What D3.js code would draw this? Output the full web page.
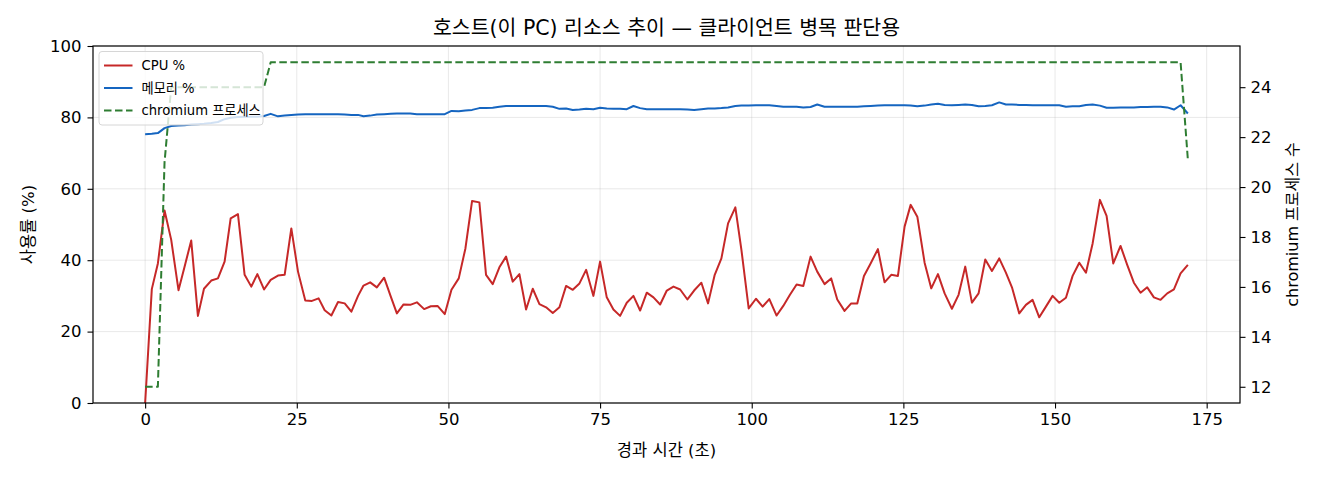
<!DOCTYPE html>
<html>
<head>
<meta charset="utf-8">
<script src="https://cdn.jsdelivr.net/npm/d3@7"></script>
<style>
  body { margin: 0; background: #fff; }
</style>
</head>
<body>
<script>
// elapsed seconds of each sample
const times = [
  0, 1.1, 2.1, 3.2, 4.3, 5.5, 6.5, 7.6, 8.7, 9.7,
  10.9, 12.0, 13.1, 14.1, 15.3, 16.4, 17.5, 18.5, 19.6, 20.7,
  21.9, 23.0, 24.1, 25.2, 26.4, 27.5, 28.6, 29.6, 30.7, 31.8,
  32.9, 34.0, 35.1, 36.0, 37.1, 38.2, 39.4, 40.5, 41.5, 42.6,
  43.7, 44.8, 46.0, 47.1, 48.2, 49.4, 50.5, 51.7, 52.8, 53.9,
  55.1, 56.2, 57.3, 58.4, 59.5, 60.6, 61.7, 62.8, 63.9, 65.0,
  66.1, 67.2, 68.3, 69.4, 70.5, 71.6, 72.7, 73.9, 75.0, 76.1,
  77.2, 78.3, 79.4, 80.5, 81.6, 82.7, 83.8, 84.9, 86.0, 87.1,
  88.2, 89.4, 90.5, 91.7, 92.8, 93.9, 95.0, 96.1, 97.3, 98.3,
  99.5, 100.7, 101.8, 102.9, 104.1, 105.2, 106.3, 107.4, 108.5, 109.7,
  110.8, 112.0, 113.1, 114.1, 115.3, 116.4, 117.4, 118.5, 119.6, 120.8,
  121.9, 123.0, 124.1, 125.2, 126.2, 127.3, 128.5, 129.6, 130.7, 131.8,
  133.0, 134.1, 135.2, 136.3, 137.4, 138.5, 139.6, 140.8, 141.9, 142.9,
  144.1, 145.2, 146.3, 147.4, 148.5, 149.6, 150.7, 151.8, 152.9, 154.0,
  155.1, 156.2, 157.4, 158.5, 159.6, 160.8, 161.9, 163.0, 164.1, 165.2,
  166.3, 167.4, 168.5, 169.6, 170.7, 171.9
];

const cpu = [
  0, 31.9, 39.1, 53.9, 45.7, 31.6, 38.2, 45.5, 24.4, 32.0,
  34.3, 34.9, 39.6, 51.7, 52.9, 35.9, 32.6, 36.1, 31.8, 34.5,
  35.7, 35.9, 48.9, 36.8, 28.7, 28.6, 29.3, 26.0, 24.5, 28.3,
  27.9, 25.6, 30.0, 32.9, 33.8, 32.4, 35.1, 29.8, 25.1, 27.6,
  27.5, 28.2, 26.3, 27.1, 27.2, 24.9, 31.7, 34.9, 43.3, 56.6,
  56.2, 35.9, 33.3, 38.0, 41.0, 34.0, 36.1, 26.2, 32.0, 27.7,
  26.8, 25.2, 26.8, 32.8, 31.7, 33.5, 37.3, 30.0, 39.6, 29.6,
  26.2, 24.4, 28.1, 30.0, 25.9, 30.9, 29.6, 27.6, 31.5, 32.6,
  31.8, 29.0, 31.5, 33.7, 27.9, 35.9, 40.5, 50.3, 54.8, 42.9,
  26.5, 29.2, 27.0, 29.1, 24.5, 27.2, 30.3, 33.2, 32.8, 41.0,
  36.8, 33.3, 34.9, 29.0, 25.8, 27.9, 27.9, 35.6, 39.1, 43.1,
  33.8, 35.9, 35.6, 49.4, 55.5, 52.2, 39.3, 32.1, 36.1, 30.7,
  26.4, 30.3, 38.2, 28.1, 30.7, 40.2, 37.0, 40.5, 36.5, 32.4,
  25.1, 27.5, 28.9, 24.0, 27.0, 30.0, 28.1, 29.5, 35.6, 39.3,
  36.5, 44.7, 56.9, 52.4, 39.1, 44.0, 38.7, 33.7, 30.9, 32.4,
  29.6, 28.9, 30.7, 31.8, 36.3, 38.7
];

const mem = [
  75.3, 75.4, 75.6, 77.0, 77.6, 77.7, 77.8, 78.0, 78.1, 78.2,
  78.4, 78.7, 79.5, 79.9, 80.1, 80.2, 80.2, 80.2, 80.4, 81.0,
  80.3, 80.5, 80.7, 80.8, 80.9, 80.9, 80.9, 80.9, 80.9, 80.9,
  80.8, 80.7, 80.7, 80.3, 80.5, 80.8, 80.9, 81.0, 81.1, 81.1,
  81.1, 80.9, 80.9, 80.9, 80.9, 80.9, 81.8, 81.7, 81.9, 82.1,
  82.6, 82.6, 82.7, 83.0, 83.2, 83.2, 83.2, 83.2, 83.2, 83.2,
  83.2, 83.0, 82.4, 82.5, 82.1, 82.2, 82.4, 82.3, 82.7, 82.5,
  82.4, 82.4, 82.3, 83.2, 82.6, 82.3, 82.3, 82.3, 82.3, 82.3,
  82.3, 82.2, 82.1, 82.3, 82.5, 82.5, 82.6, 82.8, 83.2, 83.3,
  83.3, 83.4, 83.4, 83.4, 83.2, 83.0, 83.0, 83.0, 82.8, 82.9,
  83.6, 83.0, 83.0, 83.0, 83.0, 83.0, 83.0, 83.1, 83.2, 83.3,
  83.4, 83.4, 83.4, 83.4, 83.3, 83.1, 83.3, 83.6, 83.8, 83.5,
  83.4, 83.5, 83.6, 83.5, 83.1, 83.2, 83.4, 84.2, 83.6, 83.6,
  83.5, 83.5, 83.4, 83.4, 83.4, 83.4, 83.4, 83.0, 83.1, 83.1,
  83.5, 83.6, 83.3, 82.7, 82.7, 82.8, 82.8, 82.8, 82.9, 82.9,
  83.0, 83.0, 82.8, 82.2, 83.4, 81.1
];

const procs = [
  12, 12, 12, 21, 24, 24, 24, 24, 24, 24,
  24, 24, 24, 24, 24, 24, 24, 24, 24, 25,
  25, 25, 25, 25, 25, 25, 25, 25, 25, 25,
  25, 25, 25, 25, 25, 25, 25, 25, 25, 25,
  25, 25, 25, 25, 25, 25, 25, 25, 25, 25,
  25, 25, 25, 25, 25, 25, 25, 25, 25, 25,
  25, 25, 25, 25, 25, 25, 25, 25, 25, 25,
  25, 25, 25, 25, 25, 25, 25, 25, 25, 25,
  25, 25, 25, 25, 25, 25, 25, 25, 25, 25,
  25, 25, 25, 25, 25, 25, 25, 25, 25, 25,
  25, 25, 25, 25, 25, 25, 25, 25, 25, 25,
  25, 25, 25, 25, 25, 25, 25, 25, 25, 25,
  25, 25, 25, 25, 25, 25, 25, 25, 25, 25,
  25, 25, 25, 25, 25, 25, 25, 25, 25, 25,
  25, 25, 25, 25, 25, 25, 25, 25, 25, 25,
  25, 25, 25, 25, 25, 21.1
];

const xTicks = [0, 25, 50, 75, 100, 125, 150, 175];
const yTicks = [0, 20, 40, 60, 80, 100];
const y2Ticks = [12, 14, 16, 18, 20, 22, 24];

const series = [
  {name: "CPU %", values: cpu, color: "#c62828", axis: "left"},
  {name: "메모리 %", values: mem, color: "#1565c0", axis: "left"},
  {name: "chromium 프로세스", values: procs, color: "#2e7d32", axis: "right", dash: "7.5,3.5"}
];

const width = 1320, height = 480;
const margin = {top: 46, right: 80, bottom: 77, left: 93};
const font = "'DejaVu Sans', 'Noto Sans CJK KR', sans-serif";

// matplotlib-style 5% padding
function pad(ext) {
  const p = (ext[1] - ext[0]) * 0.05;
  return [ext[0] - p, ext[1] + p];
}

const x = d3.scaleLinear()
    .domain(pad(d3.extent(times)))
    .range([margin.left, width - margin.right]);

const y = d3.scaleLinear()
    .domain([0, 100])
    .range([height - margin.bottom, margin.top]);

const y2 = d3.scaleLinear()
    .domain(pad(d3.extent(procs)))
    .range([height - margin.bottom, margin.top]);

const svg = d3.create("svg")
    .attr("width", width)
    .attr("height", height)
    .attr("viewBox", [0, 0, width, height])
    .attr("font-family", font)
    .attr("fill", "#000");

// grid
svg.append("g")
    .attr("stroke", "#b0b0b0")
    .attr("stroke-opacity", 0.35)
    .attr("stroke-width", 0.8)
  .call(g => g.selectAll("line.gx")
    .data(xTicks)
    .join("line")
      .attr("class", "gx")
      .attr("x1", d => x(d)).attr("x2", d => x(d))
      .attr("y1", margin.top).attr("y2", height - margin.bottom))
  .call(g => g.selectAll("line.gy")
    .data(yTicks)
    .join("line")
      .attr("class", "gy")
      .attr("x1", margin.left).attr("x2", width - margin.right)
      .attr("y1", d => y(d)).attr("y2", d => y(d)));

// lines
const plot = svg.append("g");
for (const s of series) {
  const yy = s.axis === "left" ? y : y2;
  plot.append("path")
      .datum(s.values)
      .attr("fill", "none")
      .attr("stroke", s.color)
      .attr("stroke-width", 2)
      .attr("stroke-linejoin", "round")
      .attr("stroke-dasharray", s.dash || null)
      .attr("d", d3.line().x((d, i) => x(times[i])).y(d => yy(d)));
}

// axes
const axisStyle = g => {
  g.select(".domain").remove();
  g.selectAll(".tick line").attr("stroke", "#000").attr("stroke-width", 1.1);
  g.selectAll(".tick text").attr("fill", "#000").attr("font-size", 16.5).attr("font-family", font);
};

svg.append("g")
    .attr("transform", `translate(0,${height - margin.bottom})`)
    .call(d3.axisBottom(x).tickValues(xTicks).tickSize(5.5).tickPadding(5))
    .call(axisStyle);

svg.append("g")
    .attr("transform", `translate(${margin.left},0)`)
    .call(d3.axisLeft(y).tickValues(yTicks).tickSize(5.5).tickPadding(6))
    .call(axisStyle);

svg.append("g")
    .attr("transform", `translate(${width - margin.right},0)`)
    .call(d3.axisRight(y2).tickValues(y2Ticks).tickSize(5.5).tickPadding(5))
    .call(axisStyle);

// spines
svg.append("rect")
    .attr("x", margin.left)
    .attr("y", margin.top)
    .attr("width", width - margin.left - margin.right)
    .attr("height", height - margin.top - margin.bottom)
    .attr("fill", "none")
    .attr("stroke", "#000")
    .attr("stroke-width", 1.2);

// labels
svg.append("text")
    .attr("x", (margin.left + width - margin.right) / 2)
    .attr("y", 35)
    .attr("text-anchor", "middle")
    .attr("font-size", 20.5)
    .text("호스트(이 PC) 리소스 추이 — 클라이언트 병목 판단용");

svg.append("text")
    .attr("x", (margin.left + width - margin.right) / 2)
    .attr("y", 456)
    .attr("text-anchor", "middle")
    .attr("font-size", 16.5)
    .text("경과 시간 (초)");

svg.append("text")
    .attr("transform", `translate(34,${(margin.top + height - margin.bottom) / 2}) rotate(-90)`)
    .attr("text-anchor", "middle")
    .attr("font-size", 16.5)
    .text("사용률 (%)");

svg.append("text")
    .attr("transform", `translate(1298,${(margin.top + height - margin.bottom) / 2}) rotate(-90)`)
    .attr("text-anchor", "middle")
    .attr("font-size", 16)
    .text("chromium 프로세스 수");

// legend
const legend = svg.append("g")
    .attr("transform", `translate(${margin.left + 6},${margin.top + 5.5})`);

legend.append("rect")
    .attr("width", 164)
    .attr("height", 73.5)
    .attr("rx", 3)
    .attr("fill", "#fff")
    .attr("fill-opacity", 0.8)
    .attr("stroke", "#d6d6d6")
    .attr("stroke-width", 1);

legend.selectAll("g")
  .data(series)
  .join("g")
    .attr("transform", (d, i) => `translate(5,${14 + i * 22.5})`)
    .call(g => g.append("line")
      .attr("x1", 0).attr("x2", 28.5)
      .attr("stroke", d => d.color)
      .attr("stroke-width", 2)
      .attr("stroke-dasharray", d => d.dash || null))
    .call(g => g.append("text")
      .attr("x", 37.5)
      .attr("dy", "0.35em")
      .attr("font-size", 13.2)
      .text(d => d.name));

document.body.appendChild(svg.node());
</script>
</body>
</html>
